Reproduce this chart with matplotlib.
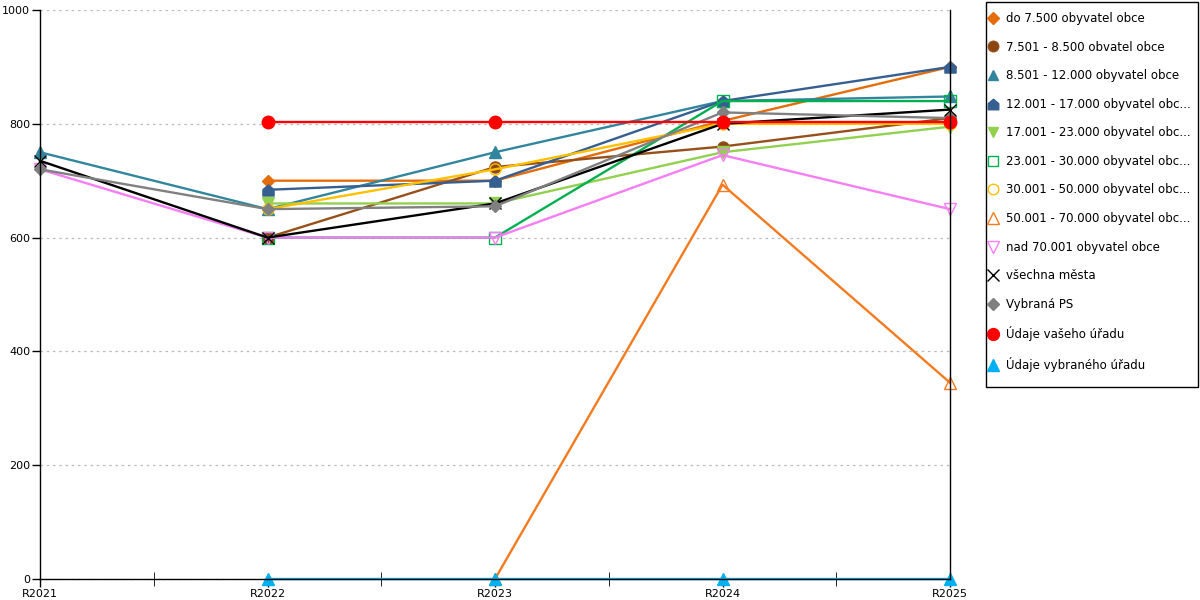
import numpy as np
import matplotlib
matplotlib.use("Agg")
import matplotlib.pyplot as plt
from matplotlib.path import Path
from matplotlib.patches import Rectangle

nan = np.nan
categories = ["R2021", "R2022", "R2023", "R2024", "R2025"]

s_do7500 = [nan, 700, 700, 805, 900]
s_7501 = [nan, 600, 724, 760, 810]
s_8501 = [750, 650, 750, 840, 848]
s_12001 = [nan, 684, 700, 840, 900]
s_17001 = [nan, 660, 660, 750, 795]
s_23001 = [nan, 600, 600, 840, 840]
s_30001 = [nan, 650, 720, 800, 800]
s_50001 = [nan, nan, 0, 693, 345]
s_nad70001 = [720, 600, 600, 745, 650]
s_vsechna = [735, 600, 660, 800, 825]
s_vybrana_ps = [720, 650, 655, 820, 810]
s_vaseho = [nan, 803, 803, 803, 803]
s_vybraneho = [nan, 0, 0, 0, 0]

labels = [
    "do 7.500 obyvatel obce",
    "7.501 - 8.500 obvatel obce",
    "8.501 - 12.000 obyvatel obce",
    "12.001 - 17.000 obyvatel obc...",
    "17.001 - 23.000 obyvatel obc...",
    "23.001 - 30.000 obyvatel obc...",
    "30.001 - 50.000 obyvatel obc...",
    "50.001 - 70.000 obyvatel obc...",
    "nad 70.001 obyvatel obce",
    "všechna města",
    "Vybraná PS",
    "Údaje vašeho úřadu",
    "Údaje vybraného úřadu",
]
series = [s_do7500, s_7501, s_8501, s_12001, s_17001, s_23001, s_30001,
          s_50001, s_nad70001, s_vsechna, s_vybrana_ps, s_vaseho, s_vybraneho]

house = Path([(-1, -1), (1, -1), (1, 0.15), (0, 1), (-1, 0.15), (-1, -1)],
             [Path.MOVETO, Path.LINETO, Path.LINETO, Path.LINETO, Path.LINETO, Path.CLOSEPOLY])

styles = [
    dict(color="#E46C0A", marker="D", ms=6, mfc="#E46C0A"),
    dict(color="#97501A", marker="o", ms=8, mfc="#8B4513"),
    dict(color="#31859C", marker="^", ms=8, mfc="#31859C"),
    dict(color="#365F91", marker=house, ms=8, mfc="#365F91"),
    dict(color="#92D050", marker="v", ms=8, mfc="#92D050"),
    dict(color="#00B050", marker="s", ms=8, mfc="none"),
    dict(color="#FFC000", marker="o", ms=8, mfc="none"),
    dict(color="#F47A20", marker="^", ms=9, mfc="none"),
    dict(color="#F57EF5", marker="v", ms=9, mfc="none"),
    dict(color="#000000", marker="x", ms=9, mfc="none"),
    dict(color="#808080", marker="D", ms=6, mfc="#808080"),
    dict(color="#FF0000", marker="o", ms=9, mfc="#FF0000"),
    dict(color="#00B0F0", marker="^", ms=9, mfc="#00B0F0"),
]

fig = plt.figure(figsize=(12, 6), dpi=100)
ax = fig.add_axes([40 / 1200, 21 / 600, 910 / 1200, 569 / 600])

x = np.arange(len(categories))
handles = []
for vals, lab, st in zip(series, labels, styles):
    ln, = ax.plot(x, vals, color=st["color"], lw=1.7, marker=st["marker"],
                  markersize=st["ms"], markerfacecolor=st["mfc"],
                  markeredgecolor=st["color"], markeredgewidth=1.0, label=lab,
                  clip_on=False)
    h, = ax.plot([], [], ls="none", marker=st["marker"], markersize=st["ms"] * 0.95,
                 markerfacecolor=st["mfc"], markeredgecolor=st["color"], markeredgewidth=1.0)
    handles.append(h)

ax.set_xlim(0, 4)
ax.set_ylim(0, 1000)
ax.set_xticks(x)
ax.set_xticklabels(categories)
ax.set_xticks(np.arange(0.5, 4, 1), minor=True)
ax.set_yticks(np.arange(0, 1001, 200))
ax.tick_params(axis="both", labelsize=8, length=6, width=1, color="black", pad=1)
ax.tick_params(axis="x", which="both", direction="out", length=6)
ax.tick_params(axis="x", which="minor", direction="inout", length=10)
ax.grid(axis="y", color="#BBBBBB", linestyle=(0, (2, 3)), linewidth=0.9)
ax.set_axisbelow(True)
ax.spines["top"].set_visible(False)
for side in ["left", "right", "bottom"]:
    ax.spines[side].set_color("black")
    ax.spines[side].set_linewidth(1.0)

leg = fig.legend(handles, labels, loc="upper left", bbox_to_anchor=(988 / 1200, 1 - 12 / 600),
                 fontsize=8.5, frameon=False,
                 labelspacing=1.32, handlelength=0.8, handletextpad=0.73,
                 borderpad=0, borderaxespad=0)
fig.add_artist(Rectangle((985.5 / 1200, 1 - 387 / 600), 212 / 1200, 385 / 600,
                         transform=fig.transFigure, fill=False, edgecolor="black", lw=1.0))

fig.savefig("out.png", dpi=100)
